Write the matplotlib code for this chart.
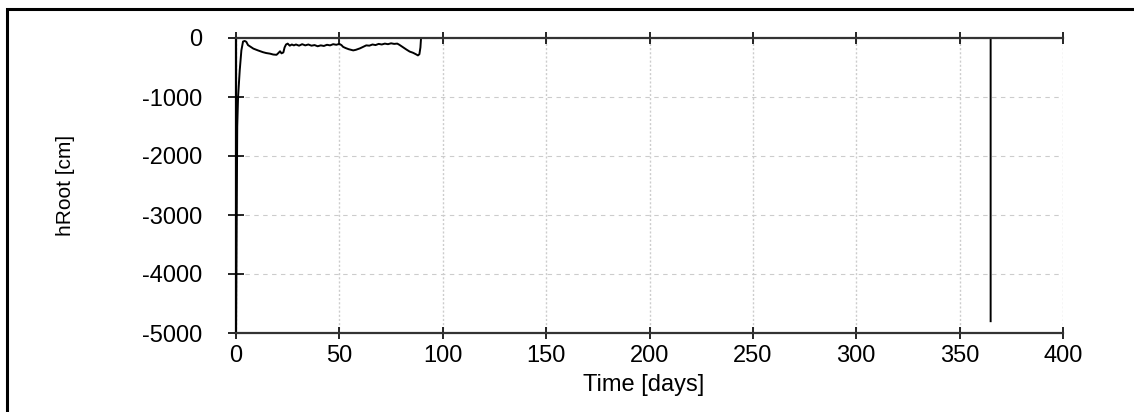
import matplotlib.pyplot as plt
from matplotlib.patches import Rectangle

# time [days] and root water pressure head [cm]
time_days = [0, 0.6, 1.0, 1.8, 2.6, 3.4, 4.2, 5.0, 5.8, 8.4, 10.6, 13.0, 14.6, 16.4, 18.0,
             19.6, 20.5, 21.3, 22.0, 22.9, 23.5, 24.2, 25.0, 26.0, 27.0, 28.0, 29.0, 30.5,
             32.0, 33.5, 35.0, 36.5, 38.0, 39.5, 41.0, 42.5, 44.0, 45.5, 47.0, 48.5, 50.0,
             51.0, 51.8, 53.0, 54.5, 56.7, 58.0, 60.0, 61.5, 63.0, 64.5, 66.0, 67.5, 69.0,
             70.5, 72.0, 73.5, 75.0, 76.5, 78.0, 79.0, 80.5, 82.4, 84.0, 85.6, 87.0, 88.0,
             88.7, 89.2, 89.5, 365.0, 365.0]
h_root = [-5000, -1500, -1000, -550, -210, -60, -50, -65, -120, -180, -210, -240, -255, -265, -280,
          -285, -255, -225, -260, -245, -160, -110, -95, -130, -110, -125, -110, -130,
          -105, -125, -110, -130, -120, -140, -125, -135, -115, -125, -105, -115, -100,
          -120, -150, -170, -190, -210, -200, -175, -150, -125, -130, -110, -120, -100,
          -110, -95, -105, -90, -100, -95, -115, -150, -195, -230, -250, -275, -295,
          -275, -160, 0, 0, -4800]

x_ticks = [0, 50, 100, 150, 200, 250, 300, 350, 400]
y_ticks = [0, -1000, -2000, -3000, -4000, -5000]

plt.rcParams['font.family'] = ['Liberation Sans', 'DejaVu Sans']
plt.rcParams['axes.unicode_minus'] = False

fig = plt.figure(figsize=(11.34, 4.12), dpi=100)
ax = fig.add_axes([236 / 1134, 1 - 333 / 412, 827 / 1134, 295 / 412])

ax.plot(time_days, h_root, color='black', linewidth=1.4)

ax.set_xlim(0, 400)
ax.set_ylim(-5000, 0)
ax.set_xticks(x_ticks)
ax.set_yticks(y_ticks)

ax.grid(True, axis='y', color='#cccccc', linestyle=(0, (4, 4)), linewidth=0.8)
ax.grid(True, axis='x', color='#cccccc', linestyle=(0, (1.5, 1.5)), linewidth=1.0)

ax.spines['right'].set_visible(False)
ax.spines['left'].set_linewidth(1.6)
for side in ['top', 'bottom']:
    ax.spines[side].set_color('#333333')
    ax.spines[side].set_linewidth(1.6)

ax.tick_params(axis='x', direction='inout', length=9, width=1.2, top=True,
               labelsize=17, pad=4)
ax.tick_params(axis='y', direction='inout', length=12, width=1.2,
               labelsize=17, pad=18)

ax.set_xlabel('Time [days]', fontsize=17)
ax.xaxis.set_label_coords(0.493, -0.14)
ax.set_ylabel('hRoot [cm]', fontsize=15)
ax.yaxis.set_label_coords(-0.195, 0.5)

# frame around the whole picture
fig.add_artist(Rectangle((7 / 1134, -0.1), 1.2, 1.1 - 9 / 412, transform=fig.transFigure,
                         fill=False, edgecolor='black', linewidth=2.2))

fig.savefig('out.png', dpi=100)
